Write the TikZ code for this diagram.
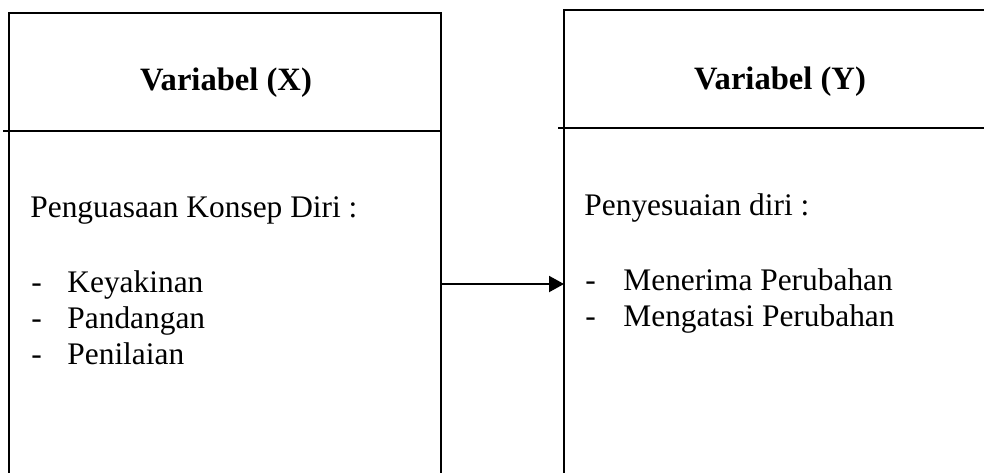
\documentclass[tikz,border=0pt]{standalone}
\usepackage{fontspec}
\setmainfont{Liberation Serif}
\usetikzlibrary{arrows.meta,positioning}

\begin{document}
\begin{tikzpicture}[x=0.5pt,y=-0.5pt,
  garis/.style={draw,line width=1pt},
  panah/.style={line width=1pt,-{Triangle[length=7.5pt,width=8pt]}},
  judul/.style={anchor=base,inner sep=0pt,font=\fontsize{16.3}{19}\selectfont\bfseries},
  isi/.style={anchor=base west,inner sep=0pt,font=\fontsize{15.7}{18}\selectfont}
  ]
  \useasboundingbox (0,0) rectangle (984,472);

  % kotak variabel X
  \draw[garis] (9,500) -- (9,13) -- (441,13) -- (441,500);
  \draw[garis] (3,131) -- (441,131);
  \node[judul] (judulx) at (226,90) {Variabel (X)};
  \node[isi] (konsep) at (30,217) {Penguasaan Konsep Diri :};
  \node[isi] (s1) at (31,292) {-};
  \node[isi] (keyakinan) at (67,292) {Keyakinan};
  \node[isi] (s2) at (31,328) {-};
  \node[isi] (pandangan) at (67,328) {Pandangan};
  \node[isi] (s3) at (31,364) {-};
  \node[isi] (penilaian) at (67,364) {Penilaian};

  % kotak variabel Y
  \draw[garis] (564,500) -- (564,10) -- (1000,10);
  \draw[garis] (558,128) -- (1000,128);
  \node[judul] (juduly) at (780,89) {Variabel (Y)};
  \node[isi] (sesuai) at (584,215) {Penyesuaian diri :};
  \node[isi] (s4) at (585,290) {-};
  \node[isi] (menerima) at (623,290) {Menerima Perubahan};
  \node[isi] (s5) at (585,326) {-};
  \node[isi] (mengatasi) at (623,326) {Mengatasi Perubahan};

  % panah X ke Y
  \coordinate (xkanan) at (441,284);
  \coordinate (ykiri) at (564,284);
  \draw[panah] (xkanan) -- (ykiri);

\end{tikzpicture}
\end{document}
